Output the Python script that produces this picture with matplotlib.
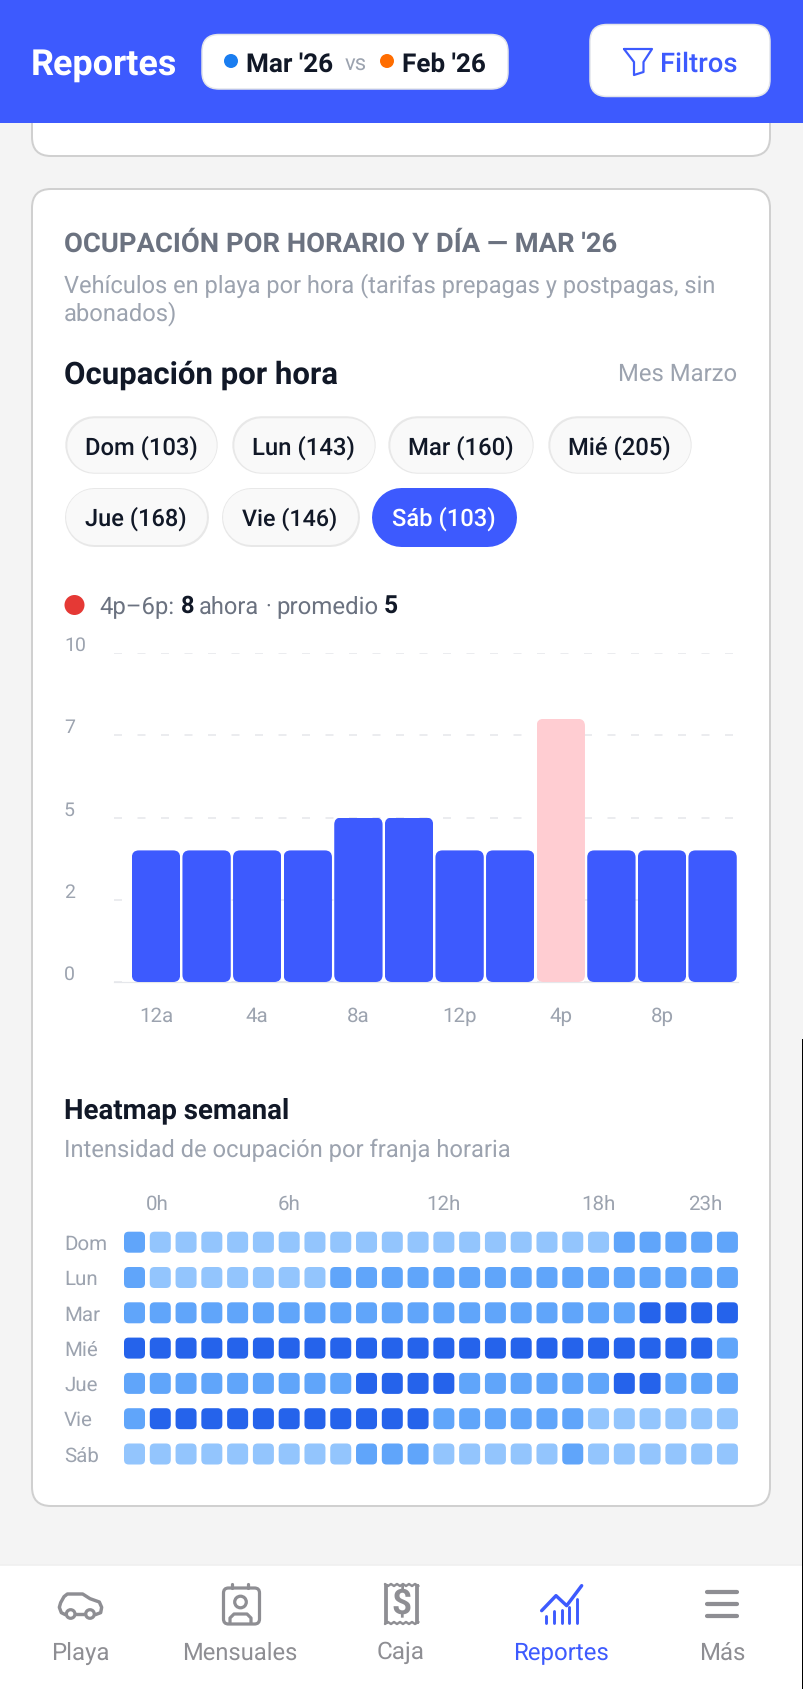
import matplotlib
matplotlib.use("Agg")
import matplotlib.pyplot as plt
from matplotlib.patches import FancyBboxPatch, Circle
from matplotlib.path import Path
from matplotlib.colors import ListedColormap
from matplotlib.textpath import TextPath
from matplotlib.font_manager import FontProperties
from matplotlib.transforms import ScaledTranslation

# ---------- data ----------
BAR_HOURS = ['12a', '2a', '4a', '6a', '8a', '10a', '12p', '2p', '4p', '6p', '8p', '10p']
BAR_VALUES = [4, 4, 4, 4, 5, 5, 4, 4, 8, 4, 4, 4]
HIGHLIGHT = '4p'
Y_TICKS = [0, 2.5, 5, 7.5, 10]
Y_LABELS = ['0', '2', '5', '7', '10']
X_LABELS = ['12a', '4a', '8a', '12p', '4p', '8p']

DAYS = ['Dom', 'Lun', 'Mar', 'Mié', 'Jue', 'Vie', 'Sáb']
HEAT_DOM = [2, 1, 1, 1, 1, 1, 1, 1, 1, 1, 1, 1, 1, 1, 1, 1, 1, 1, 1, 2, 2, 2, 2, 2]
HEAT_LUN = [2, 1, 1, 1, 1, 1, 1, 1, 2, 2, 2, 2, 2, 2, 2, 2, 2, 2, 2, 2, 2, 2, 2, 2]
HEAT_MAR = [2, 2, 2, 2, 2, 2, 2, 2, 2, 2, 2, 2, 2, 2, 2, 2, 2, 2, 2, 2, 3, 3, 3, 3]
HEAT_MIE = [3, 3, 3, 3, 3, 3, 3, 3, 3, 3, 3, 3, 3, 3, 3, 3, 3, 3, 3, 3, 3, 3, 3, 2]
HEAT_JUE = [2, 2, 2, 2, 2, 2, 2, 2, 2, 3, 3, 3, 3, 2, 2, 2, 2, 2, 2, 3, 3, 2, 2, 2]
HEAT_VIE = [2, 3, 3, 3, 3, 3, 3, 3, 3, 3, 3, 3, 2, 2, 2, 2, 2, 2, 1, 1, 1, 1, 1, 1]
HEAT_SAB = [1, 1, 1, 1, 1, 1, 1, 1, 1, 2, 2, 2, 1, 1, 1, 1, 1, 2, 1, 1, 1, 1, 1, 1]
HEAT_ROWS = [HEAT_DOM, HEAT_LUN, HEAT_MAR, HEAT_MIE, HEAT_JUE, HEAT_VIE, HEAT_SAB]
HEAT_TICKS = [0.87, 6, 12, 18, 22.15]
HEAT_TICK_LABELS = ['0h', '6h', '12h', '18h', '23h']

# ---------- palette ----------
BLUE = '#3D5AFE'
PINK = '#FFCDD2'
INK = '#111827'
GREY = '#6B7280'
LIGHT = '#9CA3AF'
NAV = '#8E8E93'
HEAT_COLORS = ['#93C5FD', '#60A5FA', '#2563EB']

plt.rcParams['font.family'] = ['Roboto', 'DejaVu Sans']
plt.rcParams['text.hinting'] = 'none'
plt.rcParams['text.hinting_factor'] = 8
W, H = 804, 1690
fig = plt.figure(figsize=(W / 100, H / 100), dpi=100, facecolor='#F4F4F4')
bg = fig.add_axes([0, 0, 1, 1])
bg.set_xlim(0, W)
bg.set_ylim(H, 0)
bg.axis('off')


def px(v):
    return v * 0.72


def box(x0, y0, x1, y1, r, fc, ec='none', lw=0, z=1):
    p = FancyBboxPatch((x0, y0), x1 - x0, y1 - y0, boxstyle=f'round,pad=0,rounding_size={r}',
                       fc=fc, ec=ec, lw=px(lw), zorder=z)
    bg.add_patch(p)
    return p


def T(x0, x1, yc, s, color, weight='normal', z=5, fit=0.985):
    fp = FontProperties(family='Roboto', weight=weight)
    w = TextPath((0, 0), s, size=100, prop=fp).get_extents().width
    size_px = 100 * (x1 - x0) / w * fit
    return bg.text(x0 - 1, yc, s, color=color, fontsize=px(size_px), fontweight=weight,
                   ha='left', va='center', zorder=z)


def stroke(xs, ys, color, lw, z=6, cap='round', join='round'):
    bg.plot(xs, ys, color=color, lw=px(lw), solid_capstyle=cap, solid_joinstyle=join, zorder=z)


def pill(x0, x1, y0, y1, fill, edge, z=3):
    h = y1 - y0
    yc = (y0 + y1) / 2
    stroke([x0 + h / 2, x1 - h / 2], [yc, yc], edge, h, z=z)
    stroke([x0 + h / 2, x1 - h / 2], [yc, yc], fill, h - 3, z=z)


# ---------- page furniture ----------
box(32, 60, 770, 157, 19, 'white', '#D0D0D0', 2, z=1)
box(32, 190, 770, 1507, 19, 'white', '#D0D0D0', 2, z=1)
bg.fill_between([0, W], 0, 124, color=BLUE, lw=0, zorder=2)
bg.fill_between([0, W], 1565.5, H, color='white', lw=0, zorder=2)
bg.plot([0, W], [1565.5, 1565.5], color='#EFEFEF', lw=px(1.5), zorder=3)
bg.plot([803, 803], [1040, H], color='black', lw=px(2), zorder=9, solid_capstyle='butt')

# header
T(32, 177, 65, 'Reportes', 'white', 'bold')
box(202, 35.5, 508, 90, 17, 'white', '#E3E5EA', 1.5, z=3)
bg.add_patch(Circle((231, 62), 7, fc='#1A7DF0', zorder=5))
T(247, 333, 64.5, "Mar '26", INK, 'semibold')
T(346, 367, 65, 'vs', LIGHT)
bg.add_patch(Circle((387, 62), 7, fc='#FF6D00', zorder=5))
T(403.5, 486, 64.5, "Feb '26", INK, 'semibold')
box(590, 25.5, 770, 97.5, 17, 'white', '#E3E5EA', 1.5, z=3)
stroke([624, 652, 643.5, 643.5, 634, 634, 624], [50, 50, 63, 73, 76, 63, 50], BLUE, 2.2)
T(661.5, 737, 64.5, 'Filtros', BLUE, 'medium')

# card heading
T(65, 618, 244, "OCUPACIÓN POR HORARIO Y DÍA — MAR '26", GREY, 'bold', fit=0.997)
T(65, 718, 286, 'Vehículos en playa por hora (tarifas prepagas y postpagas, sin', LIGHT, fit=0.997)
T(65, 177, 314, 'abonados)', LIGHT)
T(65, 338, 375, 'Ocupación por hora', INK, 'bold', fit=0.997)
T(619, 737, 374, 'Mes Marzo', LIGHT)

# day chips
CHIPS = [('Dom (103)', 65, 218, 86, 197, 0), ('Lun (143)', 232, 376, 253, 354, 0),
         ('Mar (160)', 388, 534, 409, 513, 0), ('Mié (205)', 548, 692, 569, 670, 0),
         ('Jue (168)', 65, 209, 86, 187, 1), ('Vie (146)', 222, 360, 243, 338, 1),
         ('Sáb (103)', 372, 517, 393, 496, 1)]
for label, x0, x1, tx0, tx1, row in CHIPS:
    y0, y1, yc = (417.5, 475, 448) if row == 0 else (488, 547, 519)
    active = label.startswith('Sáb')
    pill(x0, x1, y0, y1, BLUE if active else '#F9F9F9', BLUE if active else '#E8E8E8')
    T(tx0, tx1, yc, label, 'white' if active else INK, 'medium')

# status line
bg.add_patch(Circle((74.5, 606), 10, fc='#E53935', zorder=5))
T(100, 174, 607, '4p–6p:', GREY)
T(181.5, 193, 606.5, '8', INK, 'bold')
T(200, 258.5, 607, 'ahora', GREY)
bg.text(268, 607, '·', color=GREY, fontsize=px(22), ha='center', va='center', zorder=5)
T(277, 378, 607, 'promedio', GREY)
T(385, 397, 606.5, '5', INK, 'bold')

# ---------- bar chart ----------
AX_L, AX_R, AX_T, AX_B = 113.7, 737.5, 654, 983
ax = fig.add_axes([AX_L / W, 1 - AX_B / H, (AX_R - AX_L) / W, (AX_B - AX_T) / H], zorder=4)
ax.patch.set_visible(False)
pitch = 50.6
ax.set_xlim((AX_L - 156) / pitch, (AX_R - 156) / pitch)
ax.set_ylim(0, 10)
xs = list(range(len(BAR_VALUES)))
colors = [PINK if h == HIGHLIGHT else BLUE for h in BAR_HOURS]
bar_w = 0.955
bars = ax.bar(xs, BAR_VALUES, width=bar_w, color=colors, zorder=3, linewidth=0)
aspect = (1 / 32.9) / (1 / pitch)
for rect in bars:
    clip = FancyBboxPatch((rect.get_x(), rect.get_y()), rect.get_width(), rect.get_height(),
                          boxstyle=f'round,pad=0,rounding_size={7 / pitch}',
                          mutation_aspect=aspect, transform=ax.transData)
    rect.set_clip_path(clip)
ax.set_yticks(Y_TICKS[1:] + [0], Y_LABELS[1:] + [Y_LABELS[0]])
ax.set_xticks(xs[::2], X_LABELS)
ax.grid(axis='y', color='#E5E7EB', lw=px(1.5), linestyle=(0, (8 / 1.5, 15.5 / 1.5)), zorder=1)
ax.grid(axis='x', visible=False)
ax.set_axisbelow(True)
for s in ('top', 'left', 'right'):
    ax.spines[s].set_visible(False)
ax.spines['bottom'].set_color('#E5E7EB')
ax.spines['bottom'].set_linewidth(px(1.2))
ax.tick_params(axis='y', length=0, pad=px(AX_L - 65) + 0.7, labelsize=px(19.5), labelcolor=LIGHT)
ax.tick_params(axis='x', length=0, pad=px(24), labelsize=px(20.5), labelcolor=LIGHT)
off = ScaledTranslation(0, -1 / 100, fig.dpi_scale_trans)
for lab in ax.get_yticklabels():
    lab.set_ha('left')
    lab.set_va('bottom')
    lab.set_transform(lab.get_transform() + off)

# ---------- heatmap ----------
T(65.5, 288, 1111, 'Heatmap semanal', INK, 'bold', fit=0.997)
T(65.5, 510.7, 1150, 'Intensidad de ocupación por franja horaria', LIGHT, fit=0.995)

HX0, HCOL, HY0, HROW = 134.5, 25.78, 1243.2, 35.3
hm_l, hm_r, hm_t, hm_b = 120, 742, 1226, 1470
hax = fig.add_axes([hm_l / W, 1 - hm_b / H, (hm_r - hm_l) / W, (hm_b - hm_t) / H], zorder=4)
hax.patch.set_visible(False)
hax.set_xlim((hm_l - HX0) / HCOL, (hm_r - HX0) / HCOL)
hax.set_ylim((hm_b - HY0) / HROW, (hm_t - HY0) / HROW)

# rounded-square marker
r = 0.45
sq = Path([(-1 + r, -1), (1 - r, -1), (1, -1), (1, -1 + r), (1, 1 - r), (1, 1), (1 - r, 1), (-1 + r, 1),
           (-1, 1), (-1, 1 - r), (-1, -1 + r), (-1, -1), (-1 + r, -1), (-1 + r, -1)],
          [Path.MOVETO, Path.LINETO, Path.CURVE3, Path.CURVE3, Path.LINETO, Path.CURVE3, Path.CURVE3,
           Path.LINETO, Path.CURVE3, Path.CURVE3, Path.LINETO, Path.CURVE3, Path.CURVE3, Path.CLOSEPOLY])
cmap = ListedColormap(HEAT_COLORS)
hx, hy, hc = [], [], []
for j, row in enumerate(HEAT_ROWS):
    for i, v in enumerate(row):
        hx.append(i)
        hy.append(j)
        hc.append(v)
hax.scatter(hx, hy, c=hc, cmap=cmap, vmin=0.5, vmax=3.5, marker=sq, s=px(21) ** 2, linewidths=0)
for s in hax.spines.values():
    s.set_visible(False)
hax.set_yticks(range(len(DAYS)), DAYS)
hax.set_xticks(HEAT_TICKS, HEAT_TICK_LABELS)
hax.tick_params(axis='y', length=0, pad=px(hm_l - 65) + 0.7, labelsize=px(20.5), labelcolor=LIGHT)
hax.tick_params(axis='x', length=0, top=True, bottom=False, labeltop=True, labelbottom=False,
                pad=px(1226 - 1214), labelsize=px(20.5), labelcolor=LIGHT)
off_h = ScaledTranslation(0, 1 / 100, fig.dpi_scale_trans)
for lab in hax.get_yticklabels():
    lab.set_ha('left')
    lab.set_transform(lab.get_transform() + off_h)

# ---------- bottom nav ----------
for s, x0, x1, c in [('Playa', 52, 108, NAV), ('Mensuales', 183, 297, NAV), ('Caja', 378, 424, NAV),
                     ('Reportes', 514, 608, BLUE), ('Más', 700, 744, NAV)]:
    T(x0, x1, 1653, s, c)


def zx(X, o):
    return [o + v / 3 for v in X]


# car
cx = zx([76, 64, 58, 62, 72, 82, 128, 150, 178, 185, 182, 166], 40)
cy = zx([122, 116, 100, 86, 68, 60, 60, 74, 84, 100, 116, 122], 1575)
stroke(cx, cy, NAV, 3.4)
bg.add_patch(Circle((40 + 92 / 3, 1575 + 120 / 3), 4.3, fc='white', ec=NAV, lw=px(3.2), zorder=6))
bg.add_patch(Circle((40 + 150 / 3, 1575 + 120 / 3), 4.3, fc='white', ec=NAV, lw=px(3.2), zorder=6))
stroke([40 + 106 / 3, 40 + 136 / 3], [1615, 1615], NAV, 3.4)
# badge
box(223.5, 1589, 259.5, 1625, 5, 'white', NAV, 3.2, z=6)
stroke([232.5, 232.5], [1584.5, 1589], NAV, 3.2)
stroke([248.5, 248.5], [1584.5, 1589], NAV, 3.2)
bg.add_patch(Circle((240.5, 1603), 5.8, fc='white', ec=NAV, lw=px(3.2), zorder=7))
stroke([230, 230, 234, 247, 251, 251], [1624, 1619, 1615, 1615, 1619, 1624], NAV, 3.2, z=7)
# receipt
wave_x = [385, 388, 391, 394, 397, 400, 403, 406, 409, 412, 415, 418.5]
wave_t = [1585, 1587, 1585, 1587, 1585, 1587, 1585, 1587, 1585, 1587, 1585, 1587]
wave_b = [1625, 1623, 1625, 1623, 1625, 1623, 1625, 1623, 1625, 1623, 1625, 1623]
stroke(wave_x, wave_t, NAV, 2.4)
stroke(wave_x, wave_b, NAV, 2.4)
stroke([386.2, 386.2], [1585, 1625], NAV, 3.8, cap='butt')
stroke([417.3, 417.3], [1585, 1625], NAV, 3.8, cap='butt')
bg.text(401.8, 1605, '$', color=NAV, fontsize=px(35), fontweight='bold', ha='center', va='center', zorder=6)
# trend
stroke(zx([515, 558, 590, 635], 370), zx([110, 65, 95, 35], 1575), BLUE, 3.4)
for X, Y in [(527, 125), (552, 110), (575, 108), (598, 100), (622, 76)]:
    stroke([370 + X / 3] * 2, [1575 + Y / 3, 1575 + 147 / 3], BLUE, 2.9)
# hamburger
for y in (1593, 1605, 1617):
    stroke([707, 737], [y, y], NAV, 4.2)

fig.savefig('out.png', dpi=100, facecolor=fig.get_facecolor())
